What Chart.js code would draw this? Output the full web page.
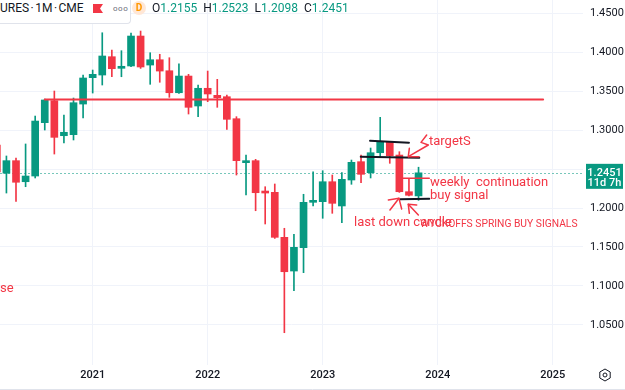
<!DOCTYPE html>
<html>
<head>
<meta charset="UTF-8" />
<title>British Pound Futures 1M CME</title>
<script src="https://cdn.jsdelivr.net/npm/chart.js"></script>
<style>
  body {
    margin: 0;
    background: #ffffff;
    font-family: Roboto, 'Noto Sans', sans-serif;
  }
  .wrap {
    position: relative;
    width: 625px;
    height: 390px;
  }
  .legend {
    position: absolute;
    top: 0;
    left: 0;
    width: 625px;
    height: 24px;
    font-size: 12px;
    color: #131722;
    white-space: nowrap;
  }
  .legend > * { position: absolute; top: 0; line-height: 17px; }
  .legend .box {
    left: 0;
    width: 130px;
    height: 23px;
    background: #fff;
    border-right: 1px solid #e0e3eb;
    border-bottom: 1px solid #e0e3eb;
    border-bottom-right-radius: 4px;
  }
  .legend .title { left: 0; font-size: 12px; word-spacing: -1.5px; }
  .legend .flag { left: 93px; top: 4px; width: 10px; height: 9px; background: #f23645;
    clip-path: polygon(0 0, 100% 0, 70% 50%, 100% 100%, 0 100%); }
  .legend .dots { left: 113px; top: 0; color: #6a6d78; font-size: 8px; letter-spacing: 0.5px; }
  .legend .d { left: 132px; top: 1px; width: 14px; height: 14px; border-radius: 7px;
    background: #ffe7d6; color: #ff9800; font-size: 10px; font-weight: bold;
    line-height: 14px; text-align: center; }
  .legend .ohlc { left: 152px; }
  .legend .ohlc b { font-weight: normal; color: #131722; }
  .legend .ohlc span { color: #089981; margin-right: 6px; }
  .gear { position: absolute; left: 598px; top: 368px; }
</style>
</head>
<body>
<div class="wrap">
  <canvas id="chart" width="625" height="390"></canvas>
  <div class="legend">
    <div class="box"></div>
    <span class="title">URES · 1M · CME</span>
    <span class="flag"></span>
    <span class="dots">ooo</span>
    <span class="d">D</span>
    <span class="ohlc" id="ohlc"></span>
  </div>
  <svg class="gear" width="14" height="14" viewBox="0 0 14 14">
    <polygon points="7,1 12.2,4 12.2,10 7,13 1.8,10 1.8,4" fill="none" stroke="#131722" stroke-width="1"/>
    <circle cx="7" cy="7" r="2" fill="none" stroke="#131722" stroke-width="1"/>
  </svg>
</div>

<script>
  // monthly candles, Mar 2020 - Nov 2023
  const months = [
    '2020-03','2020-04','2020-05','2020-06','2020-07','2020-08','2020-09','2020-10','2020-11','2020-12',
    '2021-01','2021-02','2021-03','2021-04','2021-05','2021-06','2021-07','2021-08','2021-09','2021-10','2021-11','2021-12',
    '2022-01','2022-02','2022-03','2022-04','2022-05','2022-06','2022-07','2022-08','2022-09','2022-10','2022-11','2022-12',
    '2023-01','2023-02','2023-03','2023-04','2023-05','2023-06','2023-07','2023-08','2023-09','2023-10','2023-11'
  ];
  const opens = [
    1.2808, 1.2446, 1.2607, 1.2337, 1.2410, 1.3094, 1.3376, 1.2927, 1.2940, 1.3333,
    1.3671, 1.3705, 1.3940, 1.3791, 1.3821, 1.4205, 1.3833, 1.3901, 1.3760, 1.3478, 1.3692, 1.3308,
    1.3535, 1.3445, 1.3427, 1.3145, 1.2581, 1.2607, 1.2209, 1.2201, 1.1624, 1.1192, 1.1491, 1.2073,
    1.2081, 1.2337, 1.2026, 1.2359, 1.2594, 1.2453, 1.2709, 1.2850, 1.2679, 1.2209, 1.2155
  ];
  const highs = [
    1.3200, 1.2667, 1.2640, 1.2821, 1.3179, 1.3397, 1.3500, 1.3192, 1.3410, 1.3705,
    1.3769, 1.4247, 1.4026, 1.4017, 1.4244, 1.4269, 1.3991, 1.3971, 1.3927, 1.3850, 1.3714, 1.3577,
    1.3756, 1.3650, 1.3449, 1.3171, 1.2679, 1.2624, 1.2273, 1.2308, 1.1740, 1.1663, 1.2176, 1.2465,
    1.2478, 1.2423, 1.2453, 1.2615, 1.2679, 1.2769, 1.3163, 1.2850, 1.2722, 1.2381, 1.2523
  ];
  const lows = [
    1.1412, 1.2192, 1.2086, 1.2273, 1.2385, 1.3000, 1.2692, 1.2833, 1.2872, 1.3154,
    1.3474, 1.3577, 1.3683, 1.3683, 1.3812, 1.3790, 1.3586, 1.3612, 1.3419, 1.3470, 1.3205, 1.3171,
    1.3363, 1.3291, 1.3009, 1.2423, 1.2167, 1.1965, 1.1795, 1.1610, 1.0401, 1.0940, 1.1171, 1.2026,
    1.1868, 1.1932, 1.1812, 1.2304, 1.2325, 1.2385, 1.2658, 1.2573, 1.2200, 1.2154, 1.2098
  ];
  const closes = [
    1.2462, 1.2607, 1.2330, 1.2410, 1.3115, 1.3385, 1.2906, 1.2971, 1.3350, 1.3667,
    1.3714, 1.3949, 1.3786, 1.3817, 1.4205, 1.3808, 1.3901, 1.3756, 1.3478, 1.3692, 1.3291, 1.3535,
    1.3462, 1.3414, 1.3137, 1.2607, 1.2607, 1.2196, 1.2192, 1.1624, 1.1183, 1.1496, 1.2073, 1.2090,
    1.2337, 1.2060, 1.2368, 1.2586, 1.2432, 1.2709, 1.2850, 1.2671, 1.2209, 1.2163, 1.2451
  ];
  const yearLabels = ['2021', '2022', '2023', '2024', '2025'];
  const priceTicks = [1.05, 1.10, 1.15, 1.20, 1.25, 1.30, 1.35, 1.40, 1.45];
  const timeLeft = '11d 7h';

  // hand drawn marks, in [month index, price]
  const levelLine = [[7, 1.3391], [59, 1.3391]];
  const blackLines = [
    [[40.94, 1.2863], [45.0, 1.2837]],
    [[39.97, 1.2658], [46.08, 1.2645]],
    [[44.07, 1.2112], [47.12, 1.2119]]
  ];
  const redStrokes = [
    [[46.85, 1.2936], [46.26, 1.2842], [47.02, 1.2808], [44.93, 1.2658]],
    [[45.04, 1.2765], [44.93, 1.2658], [46.05, 1.2658]],
    [[44.35, 1.2381], [47.12, 1.2381]],
    [[42.85, 1.2103], [43.96, 1.2124], [44.24, 1.1987]],
    [[43.02, 1.1974], [43.96, 1.2124]],
    [[45.81, 1.2038], [44.93, 1.2047], [45.04, 1.1932]],
    [[44.93, 1.2047], [45.98, 1.1910]]
  ];
  const notes = [
    { text: 'targetS', x: 47.09, y: 1.2846, size: 13 },
    { text: 'weekly  continuation', x: 47.2, y: 1.2321, size: 13 },
    { text: 'buy signal', x: 47.2, y: 1.2154, size: 13 },
    { text: 'last down candle', x: 39.27, y: 1.1808, size: 13 },
    { text: 'WYCKOFFS SPRING BUY SIGNALS', x: 46.15, y: 1.1795, size: 10.3 },
    { text: 'se', x: 2.33, y: 1.0962, size: 13 }
  ];

  const UP = '#089981';
  const DOWN = '#f23645';
  const RED = '#f23645';

  function monthIndex(m) {
    const [y, mm] = m.split('-').map(Number);
    return (y - 2020) * 12 + (mm - 1);
  }
  const xs = months.map(monthIndex);
  const colors = closes.map((c, i) => c >= opens[i] ? UP : DOWN);
  const yearTicks = yearLabels.map(y => monthIndex(y + '-01'));
  const lastClose = closes[closes.length - 1];

  document.getElementById('ohlc').innerHTML =
    '<b>O</b><span>' + opens[opens.length - 1].toFixed(4) + '</span>' +
    '<b>H</b><span>' + highs[highs.length - 1].toFixed(4) + '</span>' +
    '<b>L</b><span>' + lows[lows.length - 1].toFixed(4) + '</span>' +
    '<b>C</b><span>' + lastClose.toFixed(4) + '</span>';

  const drawings = {
    id: 'drawings',
    beforeDatasetsDraw(chart) {
      const { ctx, chartArea, scales } = chart;
      const y = Math.round(scales.y.getPixelForValue(lastClose)) + 0.5;
      ctx.save();
      ctx.strokeStyle = 'rgba(8,153,129,0.55)';
      ctx.lineWidth = 1;
      ctx.setLineDash([2, 2]);
      ctx.beginPath();
      ctx.moveTo(chartArea.left, y);
      ctx.lineTo(chartArea.right, y);
      ctx.stroke();
      ctx.restore();
    },
    afterDatasetsDraw(chart) {
      const { ctx, scales } = chart;
      const px = v => scales.x.getPixelForValue(v);
      const py = v => scales.y.getPixelForValue(v);
      const path = (pts, color, w) => {
        ctx.strokeStyle = color;
        ctx.lineWidth = w;
        ctx.beginPath();
        pts.forEach((p, i) => i ? ctx.lineTo(px(p[0]), py(p[1])) : ctx.moveTo(px(p[0]), py(p[1])));
        ctx.stroke();
      };
      ctx.save();
      ctx.lineCap = 'round';
      ctx.lineJoin = 'round';
      path(levelLine, RED, 2);
      blackLines.forEach(l => path(l, '#131722', 2));
      redStrokes.forEach(l => path(l, RED, 1.5));
      ctx.fillStyle = RED;
      ctx.textAlign = 'left';
      ctx.textBaseline = 'middle';
      notes.forEach(n => {
        ctx.font = n.size + 'px Roboto, sans-serif';
        ctx.fillText(n.text, px(n.x), py(n.y));
      });
      ctx.restore();
    },
    afterDraw(chart) {
      const { ctx, chartArea, scales } = chart;
      const y = scales.y.getPixelForValue(lastClose);
      ctx.save();
      ctx.fillStyle = UP;
      ctx.fillRect(chartArea.right + 3, y - 9, 37, 25);
      ctx.fillStyle = '#ffffff';
      ctx.textAlign = 'center';
      ctx.textBaseline = 'middle';
      ctx.font = '500 11px Roboto, sans-serif';
      ctx.fillText(lastClose.toFixed(4), chartArea.right + 21.5, y + 0.5);
      ctx.fillText(timeLeft, chartArea.right + 21.5, y + 10.5);
      ctx.strokeStyle = '#e0e3eb';
      ctx.lineWidth = 1;
      ctx.beginPath();
      ctx.moveTo(0, chart.height - 0.5);
      ctx.lineTo(chart.width, chart.height - 0.5);
      ctx.stroke();
      ctx.restore();
    }
  };

  new Chart(document.getElementById('chart'), {
    type: 'bar',
    data: {
      datasets: [
        {
          label: 'wick',
          data: xs.map((x, i) => ({ x: x, y: [lows[i], highs[i]] })),
          backgroundColor: colors,
          barThickness: 1,
          grouped: false,
          order: 2
        },
        {
          label: 'body',
          data: xs.map((x, i) => ({ x: x, y: [opens[i], closes[i]] })),
          backgroundColor: colors,
          barThickness: 7,
          minBarLength: 2,
          grouped: false,
          order: 1
        }
      ]
    },
    options: {
      responsive: false,
      animation: false,
      devicePixelRatio: 1,
      layout: { padding: 0 },
      plugins: { legend: { display: false }, tooltip: { enabled: false } },
      scales: {
        x: {
          type: 'linear',
          offset: false,
          min: 2.33,
          max: 63.16,
          afterFit: s => { s.height = 25; s.paddingLeft = 0; s.paddingRight = 0; },
          afterBuildTicks: s => { s.ticks = yearTicks.map(v => ({ value: v })); },
          ticks: {
            callback: (v) => yearLabels[yearTicks.indexOf(v)],
            color: '#131722',
            font: { family: 'Roboto', size: 11, weight: '500' },
            padding: 4,
            maxRotation: 0
          },
          grid: { color: '#f0f3fa', drawTicks: false, offset: false },
          border: { display: false }
        },
        y: {
          position: 'right',
          min: 0.9987,
          max: 1.4667,
          afterFit: s => { s.width = 42; s.paddingTop = 0; s.paddingBottom = 0; },
          afterBuildTicks: s => { s.ticks = priceTicks.map(v => ({ value: v })); },
          ticks: {
            callback: v => Math.abs(v - lastClose) < 0.01 ? '' : v.toFixed(4),
            color: '#131722',
            font: { family: 'Roboto', size: 11 },
            padding: 7
          },
          grid: { color: '#f0f3fa', drawTicks: false },
          border: { display: false }
        }
      }
    },
    plugins: [drawings]
  });
</script>
</body>
</html>
